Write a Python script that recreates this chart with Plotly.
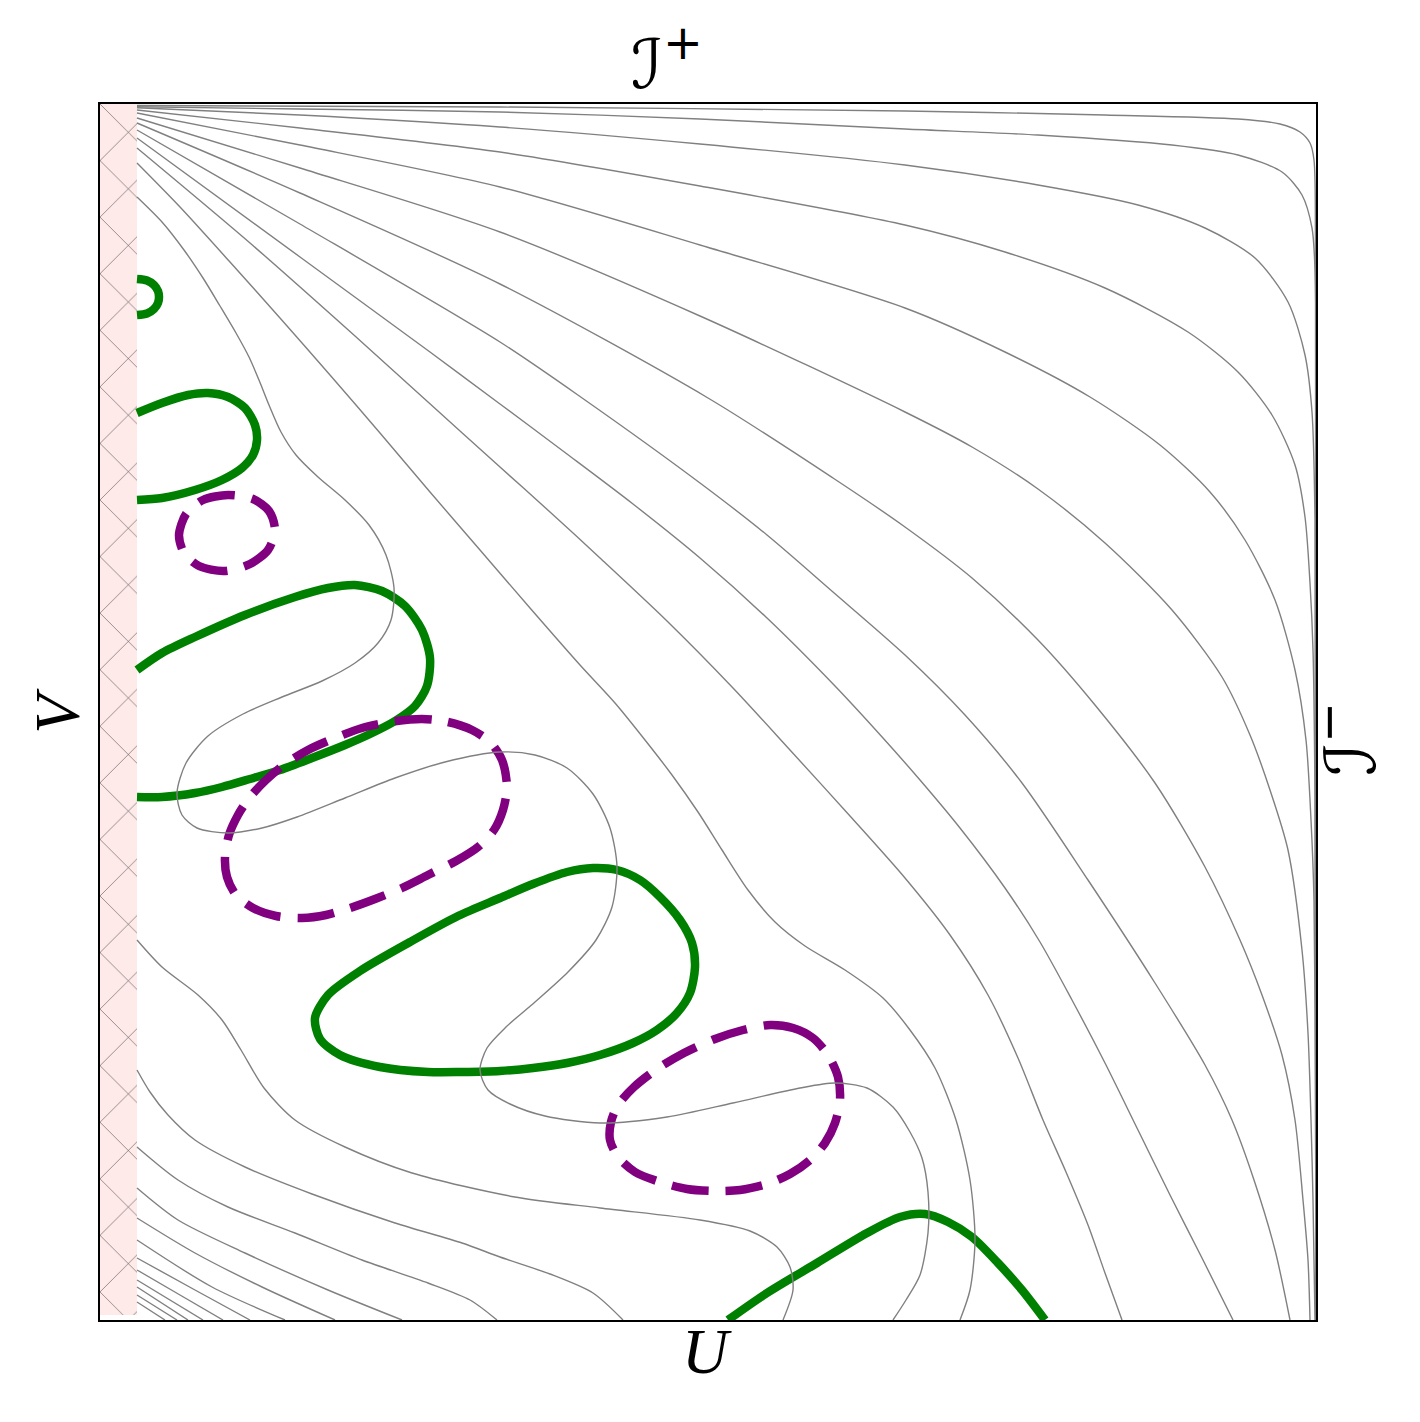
import plotly.graph_objects as go

# ---------------- data (chart units) ----------------
# U runs 100 -> 1316 left to right, V axis drawn 104 (top, I+) -> 1320 (bottom)
strip_U = [100, 137, 137, 100, 100]
strip_V = [104, 104, 1315, 1315, 104]

# grey level curves fanning from the top-left corner
gray_T0 = [(137,105.5),(500,107),(905,111),(1105,115),(1238,119),(1280,124),(1300,132),(1310,143),(1314,160),(1315.5,250),(1316,1320)]
gray_T1 = [(137,106.7),(300,109),(500,112),(700,119),(905,129),(1038,135),(1172,145),(1238,155),(1282,172),(1302,195),(1312,228),(1315,270),(1316,1320)]
gray_T2 = [(137,107.7),(300,115),(500,127),(700,144),(905,165),(1038,185),(1138,205),(1205,228),(1255,258),(1288,302),(1305,355),(1312,412),(1315,520),(1316,1320)]
gray_T3 = [(137,110),(300,128),(500,152),(700,186),(905,225),(1005,252),(1105,288),(1188,332),(1238,372),(1272,415),(1295,465),(1305,517),(1310,583),(1313,650),(1315,800),(1316,1320)]
gray_T4 = [(137,113),(300,145),(500,187),(700,245),(905,308),(1005,352),(1090,397),(1160,445),(1210,492),(1245,540),(1275,600),(1295,670),(1306,740),(1311,820),(1314,900),(1315.5,1100),(1316,1320)]
gray_T5 = [(137,118),(300,168),(500,232),(700,316),(905,412),(972,447),(1038,489),(1105,543),(1172,610),(1222,677),(1250,735),(1270,790),(1288,850),(1302,950),(1308,1033),(1311,1120),(1313,1200),(1315,1320)]
gray_T6 = [(137,123),(300,193),(500,284),(708,398),(833,478),(905,527),(972,578),(1038,640),(1095,705),(1155,783),(1205,867),(1240,940),(1262,995),(1282,1055),(1295,1120),(1303,1200),(1308,1260),(1310,1320)]
gray_T7 = [(137,130),(300,224),(500,342),(585,400),(700,483),(767,535),(833,592),(905,655),(965,715),(1022,783),(1088,880),(1155,983),(1205,1065),(1232,1120),(1255,1183),(1275,1250),(1290,1320)]
gray_T8 = [(137,138),(300,257),(430,352),(500,404),(567,454),(633,504),(700,558),(767,618),(835,686),(883,738),(920,780),(960,828),(1005,888),(1040,942),(1072,1000),(1105,1063),(1138,1130),(1170,1195),(1202,1258),(1233,1320)]
gray_T9 = [(137,148),(250,243),(355,336),(428,402),(500,467),(550,512),(600,558),(667,621),(733,688),(790,750),(850,816),(905,878),(950,935),(988,995),(1018,1058),(1043,1120),(1066,1172),(1088,1225),(1105,1273),(1122,1320)]
gray_L1 = [(137,163),(180,207),(230,262),(280,318),(330,375),(380,433),(430,492),(480,550),(530,608),(580,665),(615,703),(645,740),(672,775),(698,812),(722,850),(748,890),(775,922),(805,946),(845,970),(883,998),(910,1030),(935,1068),(956,1120),(970,1180),(975,1240),(970,1290),(960,1320)]
gray_snake = [(137,197),(162,222),(184,250),(203,278),(220,306),(236,333),(249,357),(259,380),(269,405),(281,432),(296,455),(318,477),(345,500),(369,525),(386,555),(394,588),(391,620),(378,643),(355,663),(322,681),(282,697),(243,714),(208,736),(186,763),(177,793),(182,815),(197,828),(228,833),(262,828),(297,817),(345,798),(395,778),(445,762),(500,752),(535,755),(567,768),(593,794),(610,828),(617,867),(612,907),(596,940),(568,972),(535,1002),(506,1027),(487,1048),(480,1070),(488,1090),(510,1104),(545,1116),(600,1123),(667,1117),(733,1103),(800,1088),(835,1083),(867,1088),(893,1107),(910,1132),(922,1158),(928,1192),(928,1233),(920,1275),(906,1300),(893,1320)]

# grey level curves fanning from the bottom-left corner
gray_A = [(137,940),(162,967),(198,995),(222,1020),(241,1050),(264,1088),(295,1120),(345,1147),(412,1173),(515,1197),(600,1208),(700,1220),(750,1231),(777,1247),(790,1267),(793,1290),(783,1320)]
gray_B = [(137,1070),(150,1092),(168,1115),(195,1140),(245,1167),(312,1194),(395,1223),(462,1243),(500,1257),(550,1274),(593,1293),(623,1320)]
gray_C = [(137,1147),(178,1180),(228,1207),(295,1233),(362,1260),(428,1283),(470,1300),(497,1320)]
gray_D = [(137,1188),(178,1220),(245,1253),(328,1290),(402,1320)]
gray_E = [(137,1218),(195,1253),(262,1287),(335,1320)]
gray_F = [(137,1240),(212,1287),(285,1320)]
gray_G = [(137,1258),(195,1290),(250,1320)]
gray_H = [(137,1270),(180,1295),(223,1320)]
gray_I = [(137,1280),(203,1320)]
gray_J = [(137,1287),(188,1320)]
gray_K = [(137,1295),(177,1320)]
gray_K2 = [(137,1302),(165,1320)]

# green solid contours
green_1 = [(137,279),(147,280.5),(154,285),(158,291),(159,297),(158,303),(154,309),(147,313.5),(137,315)]
green_2 = [(137,413),(162,403),(188,395),(208,393),(228,397),(245,408),(255,425),(257,440),(253,455),(242,468),(222,480),(195,490),(162,498),(137,500)]
green_3 = [(137,670),(162,653),(195,637),(245,615),(295,597),(328,588),(355,585),(382,591),(405,606),(422,630),(430,658),(427,686),(415,706),(395,721),(370,734),(345,745),(312,758),(280,770),(250,779),(222,787),(195,793),(162,797),(137,797)]
green_4 = [(500,898),(533,884),(567,872),(593,868),(617,870),(640,880),(660,897),(680,920),(692,943),(695,967),(690,993),(677,1013),(657,1030),(633,1043),(600,1055),(567,1063),(533,1068),(500,1071),(462,1072),(428,1072),(380,1067),(340,1055),(320,1039),(315,1018),(328,995),(360,971),(410,942),(458,916),(500,898)]
green_5 = [(728,1320),(767,1293),(817,1263),(867,1233),(900,1217),(925,1214),(948,1222),(972,1237),(998,1263),(1022,1290),(1045,1320)]

# purple dashed contours
purple_1 = [(228,495),(253,499),(269,511),(275,530),(268,550),(250,564),(224,571),(199,566),(184,553),(179,535),(186,514),(203,500),(228,495)]
purple_2 = [(422,719),(448,722),(472,730),(490,742),(502,760),(507,787),(503,810),(494,830),(478,847),(456,861),(428,875),(402,888),(375,899),(350,908),(326,915),(302,918),(276,916),(253,908),(236,895),(227,877),(225,857),(229,835),(238,815),(250,797),(266,780),(285,764),(308,750),(335,738),(362,728),(390,722),(422,719)]
purple_3 = [(770,1025),(793,1028),(813,1038),(828,1055),(838,1077),(840,1100),(835,1123),(825,1143),(810,1160),(790,1174),(767,1184),(740,1190),(713,1191),(687,1189),(660,1182),(635,1172),(618,1157),(610,1140),(611,1122),(618,1105),(634,1087),(657,1069),(684,1053),(715,1039),(743,1030),(770,1025)]

gray_curves = [gray_T0, gray_T1, gray_T2, gray_T3, gray_T4, gray_T5, gray_T6, gray_T7,
               gray_T8, gray_T9, gray_L1, gray_snake, gray_A, gray_B, gray_C, gray_D,
               gray_E, gray_F, gray_G, gray_H, gray_I, gray_J, gray_K, gray_K2]
green_curves = [green_1, green_2, green_3, green_4, green_5]
purple_curves = [purple_1, purple_2, purple_3]

label_top = "ℐ<sup>+</sup>"
label_right = "ℐ<sup>−</sup>"
label_u = "<i>U</i>"
label_v = "<i>V</i>"

# ---------------- figure ----------------
fig = go.Figure()

fig.add_trace(go.Scatter(
    x=strip_U, y=strip_V, mode="lines", fill="toself",
    line=dict(width=0, color="rgba(0,0,0,0)"),
    fillcolor="#ffeaea",
    fillpattern=dict(shape="x", size=40, solidity=0.025, fgcolor="#303030",
                     bgcolor="#ffeaea", fillmode="replace"),
    hoverinfo="skip", showlegend=False))


def add_curve(pts, color, width, dash="solid"):
    fig.add_trace(go.Scatter(
        x=[p[0] for p in pts], y=[p[1] for p in pts], mode="lines",
        line=dict(color=color, width=width, dash=dash, shape="spline", smoothing=0.8),
        hoverinfo="skip", showlegend=False))


for c in green_curves:
    add_curve(c, "#008000", 8.5)
for c in purple_curves:
    add_curve(c, "#800080", 8.5, dash="37px,17px")
for c in gray_curves:
    add_curve(c, "#808080", 1.4)

ax = dict(showline=True, mirror=True, linecolor="black", linewidth=2,
          showgrid=False, zeroline=False, showticklabels=False, ticks="")
fig.update_xaxes(range=[100, 1316], **ax)
fig.update_yaxes(range=[1320, 104], **ax)

serif = "Liberation Serif"
fig.update_layout(
    width=1404, height=1406,
    margin=dict(l=92, r=96, t=96, b=94),
    plot_bgcolor="white", paper_bgcolor="white",
    annotations=[
        dict(text=label_top, x=0.466, y=1.037, xref="paper", yref="paper", showarrow=False,
             xanchor="center", yanchor="middle", font=dict(family="DejaVu Sans", size=68, color="black")),
        dict(text=label_u, x=0.499, y=-0.026, xref="paper", yref="paper", showarrow=False,
             xanchor="center", yanchor="middle", font=dict(family=serif, size=64, color="black")),
        dict(text=label_v, x=-0.0345, y=0.501, xref="paper", yref="paper", showarrow=False,
             textangle=-90, xanchor="center", yanchor="middle", font=dict(family=serif, size=64, color="black")),
        dict(text=label_right, x=1.0247, y=0.478, xref="paper", yref="paper", showarrow=False,
             textangle=-90, xanchor="center", yanchor="middle", font=dict(family="DejaVu Sans", size=70, color="black")),
    ],
)

fig.write_html("out.html")
